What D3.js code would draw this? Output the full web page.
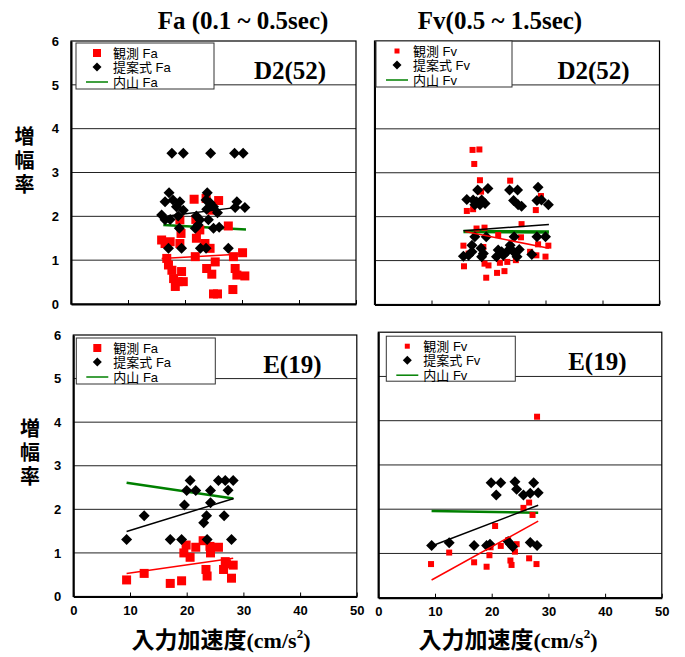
<!DOCTYPE html>
<html lang="ja">
<head>
<meta charset="UTF-8">
<title>増幅率</title>
<script src="https://d3js.org/d3.v7.min.js"></script>
<style>
  body { margin: 0; background: #fff; }
</style>
</head>
<body>
<script>
var w = 685, h = 657;
var SANS = "'Liberation Sans', Arial, 'Noto Sans CJK JP', sans-serif";
var SERIF = "'Liberation Serif', 'Times New Roman', serif";
var CJK = "'Noto Sans CJK JP', sans-serif";

var xTicks = [0, 10, 20, 30, 40, 50];
var yTicks = [0, 1, 2, 3, 4, 5, 6];
var columnTitles = ["Fa (0.1 ~ 0.5sec)", "Fv(0.5 ~ 1.5sec)"];
var legendFa = ["観測 Fa", "提案式 Fa", "内山 Fa"];
var legendFv = ["観測 Fv", "提案式 Fv", "内山 Fv"];
var yTitle = "増幅率";

// D2 site, Fa
var d2FaObs = [[21.6,2.39],[25.9,2.36],[23.7,2.41],[24.7,2.14],[19.1,1.92],[21.9,1.93],[27.6,1.78],[22.6,1.69],
  [15.9,1.46],[16.5,1.38],[17.4,1.42],[19.1,1.38],[22.0,1.50],[23.5,1.38],[24.4,1.27],[21.8,1.08],[16.8,1.04],
  [17.1,0.89],[17.7,0.77],[19.4,0.74],[18.0,0.58],[18.8,0.51],[18.3,0.40],[19.7,0.51],[23.8,0.81],[25.3,0.96],
  [24.7,0.68],[28.5,1.08],[30.1,1.17],[28.8,0.81],[29.1,0.66],[30.5,0.64],[25.0,0.23],[25.7,0.23],[28.4,0.33],[19.3,1.61]];
var d2FaProp = [[17.7,3.44],[19.7,3.44],[24.5,3.44],[28.7,3.44],[30.2,3.44],
  [17.2,2.54],[23.9,2.54],[16.5,2.33],[17.9,2.37],[19.1,2.33],[18.5,2.22],[19.7,2.14],[23.7,2.37],[24.4,2.31],
  [25.0,2.22],[25.7,2.08],[23.8,2.16],[29.1,2.33],[28.8,2.20],[30.5,2.20],[15.9,2.03],[16.5,1.92],[17.4,1.93],
  [18.8,2.01],[19.0,1.73],[22.0,2.01],[22.6,1.92],[24.1,1.92],[21.8,1.73],[22.3,1.80],[25.0,1.73],[26.0,1.75],
  [17.1,1.27],[19.4,1.27],[22.7,1.27],[23.7,1.27],[27.6,1.27]];
var d2FaObsFit = [[15.9,1.04],[30.1,1.14]];
var d2FaPropFit = [[15.9,1.99],[29.5,2.21]];
var d2FaUchiyama = [[16.2,1.80],[30.7,1.70]];

// D2 site, Fv
var d2FvObs = [[17.2,3.52],[18.4,3.53],[17.5,3.20],[18.5,2.83],[23.8,2.82],[18.7,2.57],[29.2,2.47],[16.2,2.13],
  [17.3,2.17],[28.3,2.15],[25.8,1.83],[17.9,1.73],[19.3,1.75],[21.7,1.58],[25.7,1.53],[15.6,1.34],[19.1,1.31],
  [28.7,1.37],[30.5,1.34],[16.5,1.16],[27.3,1.20],[28.4,1.12],[30.0,1.09],[15.7,0.87],[19.3,0.93],[20.0,0.89],
  [22.0,0.95],[23.3,0.97],[24.8,1.01],[19.6,0.61],[21.5,0.72],[22.8,0.76]];
var d2FvProp = [[18.1,2.61],[19.9,2.64],[23.7,2.61],[25.1,2.61],[28.7,2.67],[16.2,2.39],[17.3,2.38],[17.9,2.34],
  [18.8,2.38],[18.5,2.27],[19.4,2.30],[17.6,2.27],[24.4,2.37],[25.2,2.27],[25.8,2.24],[28.5,2.37],[29.3,2.38],
  [30.5,2.27],[17.6,1.54],[19.6,1.54],[24.5,1.54],[28.5,1.54],[30.0,1.54],[17.1,1.35],[18.7,1.28],[15.6,1.10],
  [16.5,1.12],[17.1,1.20],[18.8,1.09],[19.1,1.16],[21.7,1.24],[22.3,1.20],[21.4,1.09],[22.6,1.12],[23.3,1.21],
  [23.8,1.35],[24.4,1.20],[25.0,1.09],[25.4,1.25],[27.6,1.14]];
var d2FvObsFit = [[15.9,1.66],[30.6,1.28]];
var d2FvPropFit = [[15.6,1.68],[30.6,1.82]];
var d2FvUchiyama = [[15.6,1.66],[30.6,1.65]];

// E site, Fa
var eFaObs = [[9.4,0.38],[12.5,0.53],[17.1,0.30],[19.1,0.36],[19.9,1.18],[19.5,1.00],[20.6,0.90],[21.6,1.13],
  [22.9,1.28],[24.1,1.15],[24.2,1.00],[25.6,1.13],[23.4,0.62],[23.6,0.47],[26.8,0.80],[26.5,0.62],[28.2,0.72],
  [27.9,0.42],[27.0,0.75]];
var eFaProp = [[9.4,1.31],[12.5,1.85],[17.1,1.31],[19.1,1.31],[19.6,2.10],[20.0,2.43],[20.6,2.66],[21.6,2.43],
  [23.5,1.85],[23.0,1.69],[23.6,1.31],[24.2,2.43],[24.2,2.15],[25.6,2.66],[26.8,2.66],[28.2,2.66],[27.3,2.44],
  [26.6,1.85],[27.9,1.31]];
var eFaObsFit = [[9.4,0.53],[28.2,0.88]];
var eFaPropFit = [[9.4,1.49],[28.3,2.25]];
var eFaUchiyama = [[9.4,2.61],[28.2,2.25]];

// E site, Fv
var eFvObs = [[28.0,4.09],[9.3,0.76],[12.5,1.02],[16.9,0.80],[19.1,0.70],[19.6,0.96],[19.8,1.14],[20.6,1.62],
  [21.6,1.17],[23.3,0.84],[23.5,0.74],[24.1,1.04],[24.4,1.21],[25.6,2.03],[26.6,2.15],[27.2,1.87],[26.6,0.89],
  [27.9,0.76],[22.9,1.30]];
var eFvProp = [[9.4,1.18],[12.5,1.24],[16.9,1.18],[19.1,1.18],[19.7,1.21],[19.9,2.60],[21.6,2.60],[20.8,2.32],
  [22.9,1.27],[23.3,1.21],[23.7,1.15],[24.1,2.62],[24.4,2.45],[25.6,2.32],[26.8,2.36],[27.4,2.60],[28.2,2.37],
  [26.8,1.25],[28.0,1.18]];
var eFvObsFit = [[9.4,0.40],[28.2,1.73]];
var eFvPropFit = [[9.4,1.17],[28.2,2.09]];
var eFvUchiyama = [[9.4,1.96],[28.2,1.92]];

var panels = [
  { x0: 71, y0: 41, pw: 285, ph: 263, obs: d2FaObs, prop: d2FaProp, obsFit: d2FaObsFit, propFit: d2FaPropFit,
    uchi: d2FaUchiyama, uchiW: 2.5, label: "D2(52)", legend: legendFa, sq: 9, legSq: 8, leg: [5, 2, 138, 46],
    yLabels: true, xLabels: false },
  { x0: 374.5, y0: 41, pw: 285, ph: 263.5, obs: d2FvObs, prop: d2FvProp, obsFit: d2FvObsFit, propFit: d2FvPropFit,
    uchi: d2FvUchiyama, uchiW: 3.5, label: "D2(52)", legend: legendFv, sq: 6, legSq: 5, leg: [1.5, 0, 136, 46],
    yLabels: false, xLabels: false },
  { x0: 73.3, y0: 335, pw: 283.5, ph: 261.5, obs: eFaObs, prop: eFaProp, obsFit: eFaObsFit, propFit: eFaPropFit,
    uchi: eFaUchiyama, uchiW: 2.5, label: "E(19)", legend: legendFa, sq: 9, legSq: 8, leg: [3, 3, 139, 46],
    yLabels: true, xLabels: true },
  { x0: 378.3, y0: 332.2, pw: 283.5, ph: 265.5, obs: eFvObs, prop: eFvProp, obsFit: eFvObsFit, propFit: eFvPropFit,
    uchi: eFvUchiyama, uchiW: 2.5, label: "E(19)", legend: legendFv, sq: 6, legSq: 5, leg: [8, 4, 129, 45],
    yLabels: false, xLabels: true }
];

var svg = d3.select("body").append("svg")
  .attr("width", w)
  .attr("height", h);

function diamond(r) {
  return "M0," + (-r) + "L" + r + ",0L0," + r + "L" + (-r) + ",0Z";
}

panels.forEach(function (p) {
  var x = d3.scaleLinear().domain([0, 50]).range([0, p.pw]);
  var y = d3.scaleLinear().domain([0, 6]).range([p.ph, 0]);
  var g = svg.append("g").attr("transform", "translate(" + p.x0 + "," + p.y0 + ")");

  // horizontal grid
  g.selectAll(".grid").data(yTicks.slice(1, 6)).enter().append("line")
    .attr("x1", 0).attr("x2", p.pw)
    .attr("y1", function (d) { return y(d); }).attr("y2", function (d) { return y(d); })
    .attr("stroke", "#222").attr("stroke-width", 1);

  // frame
  g.append("rect").attr("width", p.pw).attr("height", p.ph)
    .attr("fill", "none").attr("stroke", "#000").attr("stroke-width", 1.2);

  // bottom axis, ticks pointing in
  var xa = d3.axisBottom(x).tickValues(xTicks).tickSizeInner(-4).tickSizeOuter(0).tickPadding(9);
  if (!p.xLabels) xa.tickFormat("");
  var gx = g.append("g").attr("transform", "translate(0," + p.ph + ")").call(xa);
  gx.select(".domain").attr("stroke-width", 2);
  gx.selectAll("text").attr("font-size", 13).attr("font-weight", "bold")
    .style("font-family", SANS).attr("fill", "#000");

  var ya = d3.axisLeft(y).tickValues(yTicks).tickSize(0).tickPadding(12).tickFormat(d3.format("d"));
  if (!p.yLabels) ya.tickFormat("");
  var gy = g.append("g").call(ya);
  gy.select(".domain").attr("stroke-width", 2);
  gy.selectAll("text").attr("font-size", 13).attr("font-weight", "bold")
    .style("font-family", SANS).attr("fill", "#000");

  var line = d3.line().x(function (d) { return x(d[0]); }).y(function (d) { return y(d[1]); });

  // Uchiyama line
  g.append("path").datum(p.uchi).attr("d", line)
    .attr("stroke", "#008000").attr("stroke-width", p.uchiW).attr("fill", "none");

  // observed
  g.selectAll(".obs").data(p.obs).enter().append("rect")
    .attr("x", function (d) { return x(d[0]) - p.sq / 2; })
    .attr("y", function (d) { return y(d[1]) - p.sq / 2; })
    .attr("width", p.sq).attr("height", p.sq)
    .attr("fill", "#ff0000");

  // proposed
  g.selectAll(".prop").data(p.prop).enter().append("path")
    .attr("d", diamond(5.5))
    .attr("transform", function (d) { return "translate(" + x(d[0]) + "," + y(d[1]) + ")"; })
    .attr("fill", "#000");

  // trend lines
  g.append("path").datum(p.obsFit).attr("d", line)
    .attr("stroke", "#ff0000").attr("stroke-width", 1.5).attr("fill", "none");
  g.append("path").datum(p.propFit).attr("d", line)
    .attr("stroke", "#000").attr("stroke-width", 1.5).attr("fill", "none");

  // legend
  var lg = g.append("g").attr("transform", "translate(" + p.leg[0] + "," + p.leg[1] + ")");
  lg.append("rect").attr("width", p.leg[2]).attr("height", p.leg[3])
    .attr("fill", "#fff").attr("stroke", "#333").attr("stroke-width", 1);
  lg.append("rect").attr("x", 21 - p.legSq / 2).attr("y", 10 - p.legSq / 2)
    .attr("width", p.legSq).attr("height", p.legSq).attr("fill", "#ff0000");
  lg.append("path").attr("d", diamond(4.5)).attr("transform", "translate(21,24)").attr("fill", "#000");
  lg.append("line").attr("x1", 10).attr("x2", 32).attr("y1", 39).attr("y2", 39)
    .attr("stroke", "#008000").attr("stroke-width", 1.5);
  lg.selectAll(".lt").data(p.legend).enter().append("text")
    .attr("x", 37)
    .attr("y", function (d, i) { return [10, 24, 39][i]; })
    .attr("dy", "0.35em")
    .attr("font-size", 13)
    .style("font-family", SANS)
    .text(function (d) { return d; });

  // site label
  g.append("text").attr("x", 219).attr("y", 38)
    .attr("text-anchor", "middle")
    .style("font-family", SERIF)
    .attr("font-weight", "bold").attr("font-size", 25)
    .text(p.label);
});

// column titles
svg.selectAll(".ctitle").data(columnTitles).enter().append("text")
  .attr("x", function (d, i) { return [243, 500][i]; })
  .attr("y", 29)
  .attr("text-anchor", "middle")
  .style("font-family", SERIF)
  .attr("font-weight", "bold").attr("font-size", 25)
  .text(function (d) { return d; });

// y titles, stacked vertically
[{ x: 24.5, y: 126 }, { x: 30, y: 418 }].forEach(function (pos) {
  svg.append("text")
    .attr("x", pos.x)
    .attr("y", pos.y)
    .style("writing-mode", "vertical-rl")
    .style("letter-spacing", "4px")
    .style("font-family", CJK)
    .attr("font-weight", "bold").attr("font-size", 20)
    .text(yTitle);
});

// x titles
[221, 508].forEach(function (cx) {
  var t = svg.append("text").attr("x", cx).attr("y", 648).attr("text-anchor", "middle");
  t.append("tspan").style("font-family", CJK)
    .attr("font-weight", "bold").attr("font-size", 23).text("入力加速度");
  t.append("tspan").style("font-family", SERIF)
    .attr("font-weight", "bold").attr("font-size", 22).text("(cm/s");
  t.append("tspan").style("font-family", SERIF)
    .attr("font-weight", "bold").attr("font-size", 13).attr("dy", -10).text("2");
  t.append("tspan").style("font-family", SERIF)
    .attr("font-weight", "bold").attr("font-size", 22).attr("dy", 10).text(")");
});
</script>
</body>
</html>
